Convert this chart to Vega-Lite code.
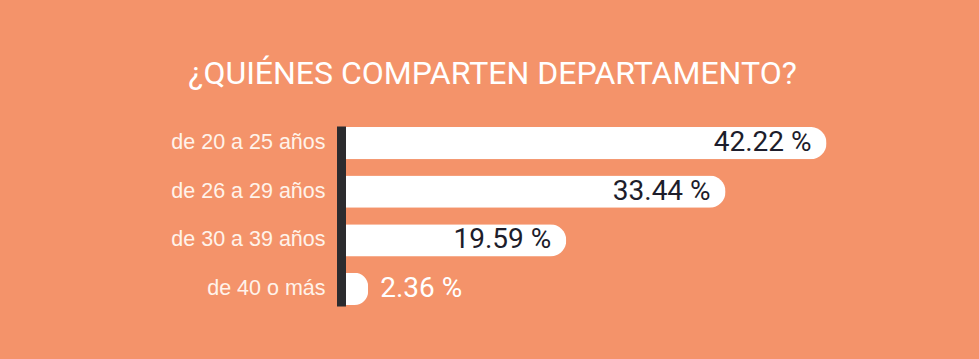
{
  "$schema": "https://vega.github.io/schema/vega-lite/v6.json",
  "autosize": {"type": "none"},
  "width": 575,
  "height": 180,
  "padding": {"left": 341, "top": 126, "right": 63, "bottom": 53},
  "background": "#F4936A",
  "config": {"view": {"stroke": null}},
  "title": {
    "text": "¿QUIÉNES COMPARTEN DEPARTAMENTO?",
    "font": "Roboto, sans-serif",
    "fontSize": 32,
    "fontWeight": "normal",
    "color": "#FFFFFF",
    "anchor": "middle",
    "dx": -136,
    "offset": 35
  },
  "data": {
    "values": [
      {"grupo": "de 20 a 25 años", "pct": 42.22, "label": "42.22 %"},
      {"grupo": "de 26 a 29 años", "pct": 33.44, "label": "33.44 %"},
      {"grupo": "de 30 a 39 años", "pct": 19.59, "label": "19.59 %"},
      {"grupo": "de 40 o más", "pct": 2.36, "label": "2.36 %"}
    ]
  },
  "encoding": {
    "y": {
      "field": "grupo",
      "type": "nominal",
      "sort": null,
      "scale": {"paddingInner": 0.337, "paddingOuter": 0.02},
      "axis": {
        "title": null,
        "ticks": false,
        "domain": true,
        "domainColor": "#2B2B2E",
        "domainWidth": 9,
        "domainCap": "butt",
        "zindex": 1,
        "labelFont": "Liberation Sans, Arial, sans-serif",
        "labelFontSize": 21.5,
        "labelColor": "#FFF3EA",
        "labelPadding": 16
      }
    },
    "x": {
      "field": "pct",
      "type": "quantitative",
      "scale": {"domain": [0, 50]},
      "axis": null
    }
  },
  "layer": [
    {
      "mark": {"type": "bar", "color": "#FFFFFF", "cornerRadiusEnd": 16}
    },
    {
      "transform": [{"filter": "datum.pct > 10"}],
      "mark": {
        "type": "text",
        "align": "right",
        "baseline": "middle",
        "dx": -15,
        "font": "Roboto, sans-serif",
        "fontSize": 28,
        "color": "#1D1D2B"
      },
      "encoding": {"text": {"field": "label"}}
    },
    {
      "transform": [{"filter": "datum.pct <= 10"}],
      "mark": {
        "type": "text",
        "align": "left",
        "baseline": "middle",
        "dx": 12,
        "font": "Roboto, sans-serif",
        "fontSize": 28,
        "color": "#FFFFFF"
      },
      "encoding": {"text": {"field": "label"}}
    }
  ]
}
